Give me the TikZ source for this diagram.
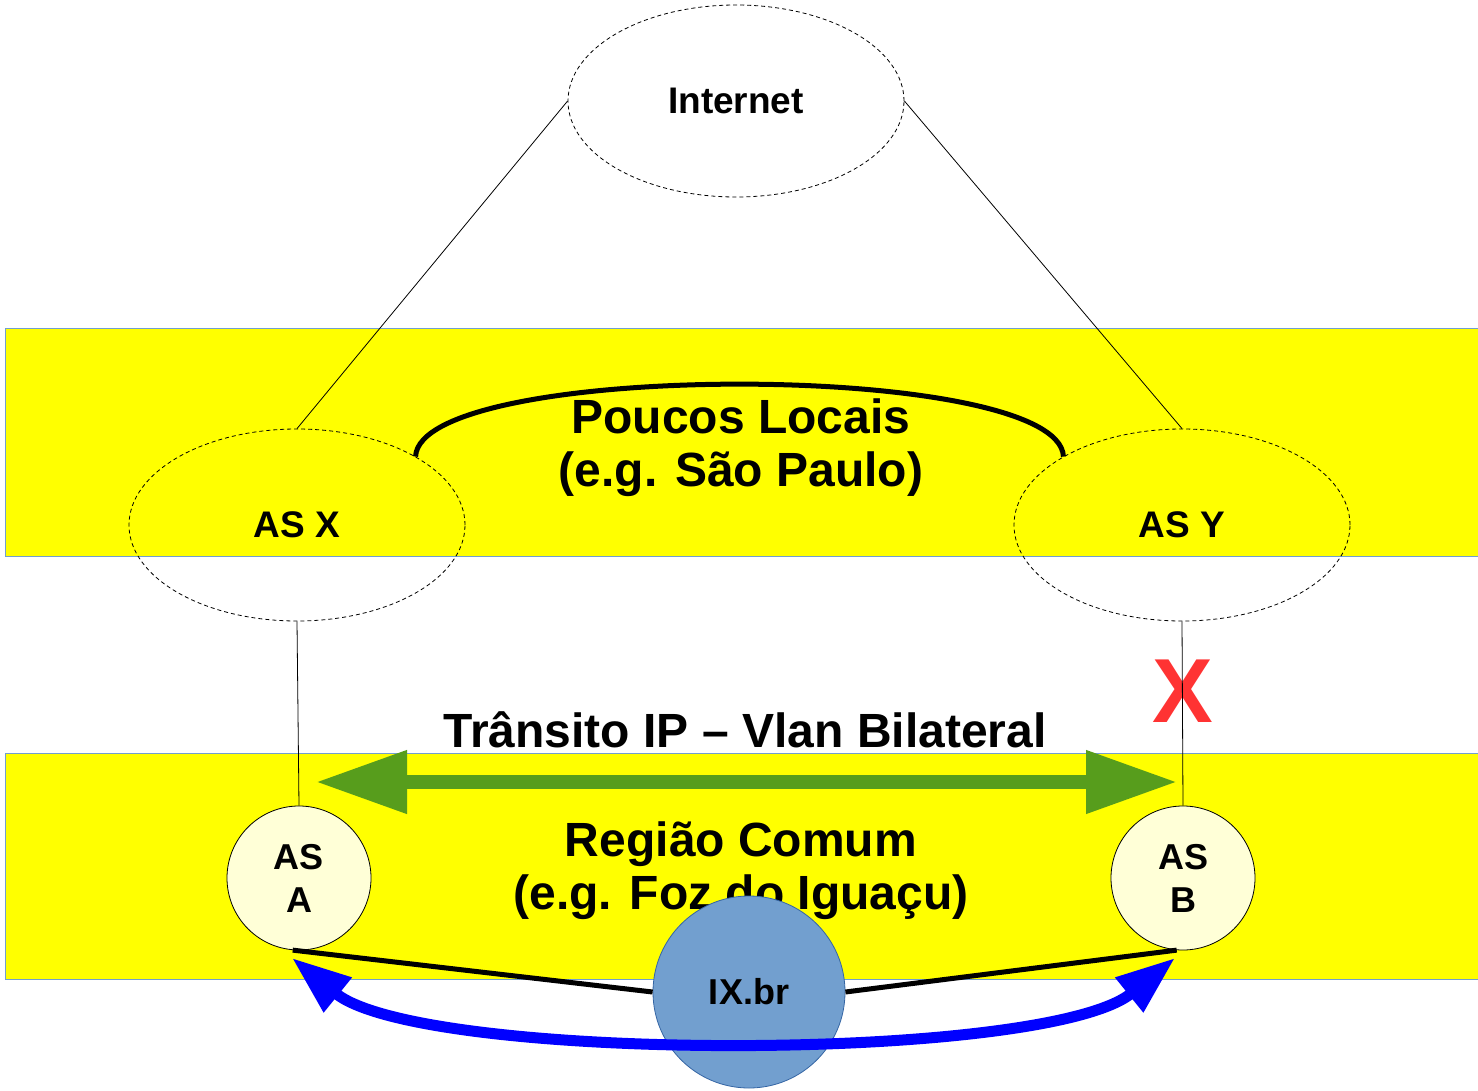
\documentclass[tikz,border=0pt]{standalone}
\usepackage{fontspec}
\setmainfont{Liberation Sans}
\usetikzlibrary{arrows.meta,shapes.geometric}
\definecolor{bandyellow}{HTML}{FFFF00}
\definecolor{bandedge}{HTML}{729FCF}
\definecolor{asfill}{HTML}{FFFFD7}
\definecolor{ixfill}{HTML}{729FCF}
\definecolor{ixedge}{HTML}{3465A4}
\definecolor{arrowgreen}{HTML}{579D1C}
\definecolor{crossred}{HTML}{FF3333}
\tikzset{
  band/.style={fill=bandyellow, draw=bandedge, line width=1pt},
  cloud/.style={ellipse, draw=black, dash pattern=on 4pt off 3pt, line width=0.8pt,
    minimum width=336pt, minimum height=192pt, inner sep=0pt,
    font=\fontsize{37}{43}\selectfont\bfseries},
  asnode/.style={circle, draw=black, fill=asfill, line width=0.8pt, minimum size=144pt,
    inner sep=0pt, align=center, font=\fontsize{36}{43}\selectfont\bfseries},
  ixnode/.style={circle, draw=ixedge, fill=ixfill, line width=0.8pt, minimum size=192pt,
    inner sep=0pt, font=\fontsize{36}{43}\selectfont\bfseries},
  bigtext/.style={align=center, inner sep=0pt, font=\fontsize{48}{53}\selectfont\bfseries},
  thinlink/.style={draw=black, line width=0.8pt},
  thicklink/.style={draw=black, line width=5pt},
}
\begin{document}
\begin{tikzpicture}[x=1pt,y=-1pt]
\useasboundingbox (0,0) rectangle (1478,1091);
\fill[white] (0,0) rectangle (1478,1091);
% bands
\path[band] (5,329) rectangle (1478,556);
\path[band] (5,753) rectangle (1478,979);
% ellipses
\node[cloud] (inet) at (736,101) {Internet};
\node[cloud] (asx) at (297,525) {AS X};
\node[cloud] (asy) at (1182,525) {AS Y};
% texts
\node[bigtext] (pl) at (741,448) {Poucos Locais\\(e.g. São Paulo)};
\node[bigtext, anchor=base] (tr) at (745,747) {Trânsito IP – Vlan Bilateral};
\node[bigtext] (rc) at (741,871) {Região Comum\\(e.g. Foz do Iguaçu)};
\node[text=crossred, inner sep=0pt, anchor=base, font=\fontsize{91}{91}\selectfont\bfseries] (cross) at (1183,722) {X};
% AS nodes
\node[asnode] (asa) at (299,878) {AS\\A};
\node[asnode] (asb) at (1183,878) {AS\\B};
% links
\draw[thinlink] (inet.west) -- (asx.north);
\draw[thinlink] (inet.east) -- (asy.north);
\draw[thinlink] (asx.south) -- (asa.north);
\draw[thinlink] (asy.south) -- (asb.north);
\draw[thicklink] (asx.30) .. controls (420,360) and (1059,360) .. (asy.150);
% green arrow
\coordinate (gl) at (316,782);
\coordinate (gr) at (1177,782);
\draw[arrowgreen, line width=14pt, {Triangle[length=91pt,width=60pt]}-{Triangle[length=91pt,width=60pt]}] (gl) -- (gr);
% IX
\node[ixnode] (ix) at (749,992) {IX.br};
\draw[thicklink] (asa.265) -- (ix.west);
\draw[thicklink] (ix.east) -- (asb.265);
% blue arrow
\coordinate (bl) at (292,958);
\coordinate (br) at (1175,958);
\draw[blue, line width=11pt, {Triangle[length=59pt,width=42pt]}-{Triangle[length=59pt,width=42pt]}] (bl) .. controls (422,1063) and (1045,1063) .. (br);
\end{tikzpicture}
\end{document}
